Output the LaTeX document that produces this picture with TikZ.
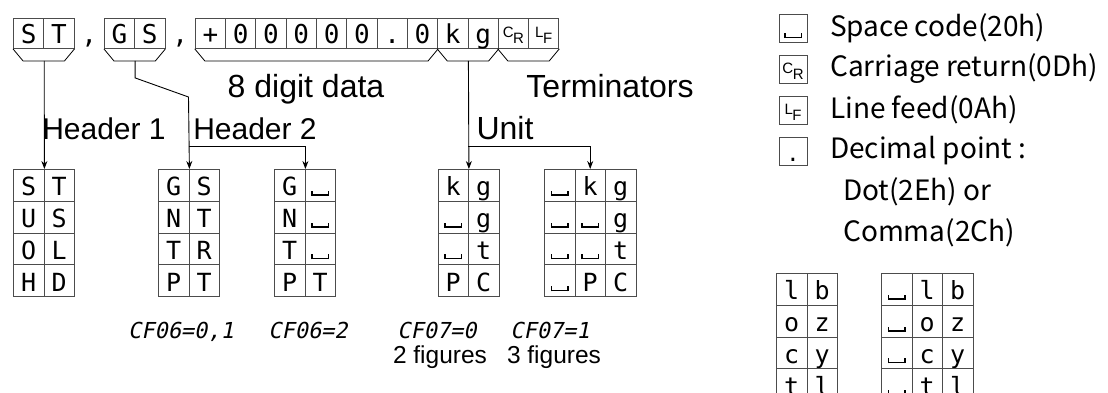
\documentclass[tikz,border=0pt]{standalone}
\usepackage{fontspec}
\setmainfont{Liberation Sans}
\newfontfamily\cellfont{DejaVu Sans Mono}
\newfontfamily\legfont{Noto Sans CJK JP}
\newfontfamily\segfont{DejaVu Sans Mono}[FakeSlant=0.2]
\usetikzlibrary{arrows.meta,positioning}

\newcommand{\spc}{\makebox[18pt]{\rule{1.4pt}{5pt}\rule{15pt}{1.4pt}\rule{1.4pt}{5pt}}}
\newcommand{\crsym}{{\rmfamily\fontsize{15}{15}\selectfont\raisebox{6pt}{C}\kern-0.5pt R}}
\newcommand{\lfsym}{{\rmfamily\fontsize{15}{15}\selectfont\raisebox{6pt}{L}\kern-0.5pt F}}

\tikzset{
  cell/.style={draw=black!70, line width=0.9pt, anchor=north west, inner sep=0pt,
    minimum width=30.5pt, minimum height=31.8pt, text height=21pt, text depth=0pt,
    font=\cellfont\fontsize{25}{25}\selectfont},
  topcell/.style={cell, minimum width=30.3pt, minimum height=30pt, text height=20pt,
    font=\cellfont\fontsize{26}{26}\selectfont},
  brace/.style={line width=0.8pt},
  conn/.style={line width=0.9pt, ->},
  bigtext/.style={inner sep=0pt, anchor=base, font=\fontsize{32}{32}\selectfont},
  headtext/.style={inner sep=0pt, anchor=base, font=\fontsize{30}{30}\selectfont},
  figtext/.style={inner sep=0pt, anchor=base, font=\fontsize{24.5}{24.5}\selectfont},
  cftext/.style={inner sep=0pt, anchor=base, font=\segfont\fontsize{22}{22}\selectfont},
  legbox/.style={draw=black!70, line width=0.9pt, inner sep=0pt, minimum width=28pt,
    minimum height=28pt, text height=20pt, text depth=0pt, font=\cellfont\fontsize{22}{22}\selectfont},
  legtext/.style={inner sep=0pt, anchor=west, font=\legfont\fontsize{28}{28}\selectfont}
}

\begin{document}
\begin{tikzpicture}[x=1pt, y=-1pt, >={Stealth[length=8pt,width=6pt]}]
\useasboundingbox (0,0) rectangle (1108,392);

% top row
\foreach \i/\ch in {0/S,1/T,3/G,4/S,6/+,7/0,8/0,9/0,10/0,11/0,12/.,13/0,14/k,15/g,16/\crsym,17/\lfsym}
  \node[topcell] (t\i) at (13+30.3*\i,18) {\ch};
\node[topcell, draw=none] (t2) at (13+30.3*2,18) {,};
\node[topcell, draw=none] (t5) at (13+30.3*5,18) {,};

% brackets
\draw[brace] (t0.south west) -- ++(10,12) -- ([shift={(-10,12)}]t1.south east) -- (t1.south east);
\draw[brace] (t3.south west) -- ++(10,12) -- ([shift={(-10,12)}]t4.south east) -- (t4.south east);
\draw[brace] (t6.south west) -- ++(10,12) -- ([shift={(-10,12)}]t13.south east) -- (t13.south east);
\draw[brace] (t14.south west) -- ++(10,12) -- ([shift={(-10,12)}]t15.south east) -- (t15.south east);
\draw[brace] (t16.south west) -- ++(10,12) -- ([shift={(-10,12)}]t17.south east) -- (t17.south east);

\node[bigtext] (ldata) at (306,97) {8 digit data};
\node[bigtext] (lterm) at (610,97) {Terminators};
\node[headtext] (lhd1) at (104,139) {Header 1};
\node[headtext] (lhd2) at (255,139) {Header 2};
\node[bigtext] (lunit) at (505,139) {Unit};

% tables
\foreach \a/\b [count=\row from 0] in {S/T,U/S,O/L,H/D}{
  \node[cell] (ha-\row-a) at (13,169+31.8*\row) {\a};
  \node[cell] (ha-\row-b) at (43.5,169+31.8*\row) {\b};
}
\foreach \a/\b [count=\row from 0] in {G/S,N/T,T/R,P/T}{
  \node[cell] (hb-\row-a) at (158,169+31.8*\row) {\a};
  \node[cell] (hb-\row-b) at (188.5,169+31.8*\row) {\b};
}
\foreach \a/\b [count=\row from 0] in {G/\spc,N/\spc,T/\spc,P/T}{
  \node[cell] (hc-\row-a) at (274,169+31.8*\row) {\a};
  \node[cell] (hc-\row-b) at (304.5,169+31.8*\row) {\b};
}
\foreach \a/\b [count=\row from 0] in {k/g,\spc/g,\spc/t,P/C}{
  \node[cell] (ua-\row-a) at (437.5,169+31.8*\row) {\a};
  \node[cell] (ua-\row-b) at (468,169+31.8*\row) {\b};
}
\foreach \a/\b/\c [count=\row from 0] in {\spc/k/g,\spc/\spc/g,\spc/\spc/t,\spc/P/C}{
  \node[cell] (ub-\row-a) at (544,169+31.8*\row) {\a};
  \node[cell] (ub-\row-b) at (574.5,169+31.8*\row) {\b};
  \node[cell] (ub-\row-c) at (605,169+31.8*\row) {\c};
}
\foreach \a/\b [count=\row from 0] in {l/b,o/z,c/y,t/l}{
  \node[cell] (ra-\row-a) at (776,273+31.8*\row) {\a};
  \node[cell] (ra-\row-b) at (806.5,273+31.8*\row) {\b};
}
\foreach \a/\b/\c [count=\row from 0] in {\spc/l/b,\spc/o/z,\spc/c/y,\spc/t/l}{
  \node[cell] (rb-\row-a) at (881,273+31.8*\row) {\a};
  \node[cell] (rb-\row-b) at (911.5,273+31.8*\row) {\b};
  \node[cell] (rb-\row-c) at (942,273+31.8*\row) {\c};
}

% connectors
\coordinate (s1) at ([yshift=-12pt]t0.south east);
\draw[conn] (s1) -- (ha-0-a.north east);
\coordinate (s2) at ([yshift=-12pt]t3.south east);
\coordinate (k2) at ([yshift=-17pt]s2);
\coordinate (b2) at (188.5,97);
\coordinate (j2) at (188.5,146.5);
\draw[conn] (s2) -- (k2) -- (b2) -- (hb-0-a.north east);
\draw[conn] (j2) -| (hc-0-a.north east);
\coordinate (s3) at ([yshift=-12pt]t14.south east);
\coordinate (j3) at (468,146.5);
\draw[conn] (s3) -- (ua-0-a.north east);
\draw[conn] (j3) -| (ub-0-b.north);

% settings
\node[cftext] (cf1) at (181,338) {CF06=0,1};
\node[cftext] (cf2) at (308,338) {CF06=2};
\node[cftext] (cf3) at (437,338) {CF07=0};
\node[cftext] (cf4) at (550,338) {CF07=1};
\node[figtext] (fig2) at (440,363) {2 figures};
\node[figtext] (fig3) at (554,363) {3 figures};

% legend
\node[legbox] (kspc) at (793,28) {\spc};
\node[legbox] (kcr) at (793,69) {\crsym};
\node[legbox] (klf) at (793,110) {\lfsym};
\node[legbox] (kdot) at (793,151) {.};
\node[legtext] (tspc) at (830,28) {Space code(20h)};
\node[legtext] (tcr) at (830,69) {Carriage return(0Dh)};
\node[legtext] (tlf) at (830,110) {Line feed(0Ah)};
\node[legtext] (tdot) at (830,151) {Decimal point :};
\node[legtext] (tdot2) at (843,192) {Dot(2Eh) or};
\node[legtext] (tcom) at (843,233) {Comma(2Ch)};
\end{tikzpicture}
\end{document}
